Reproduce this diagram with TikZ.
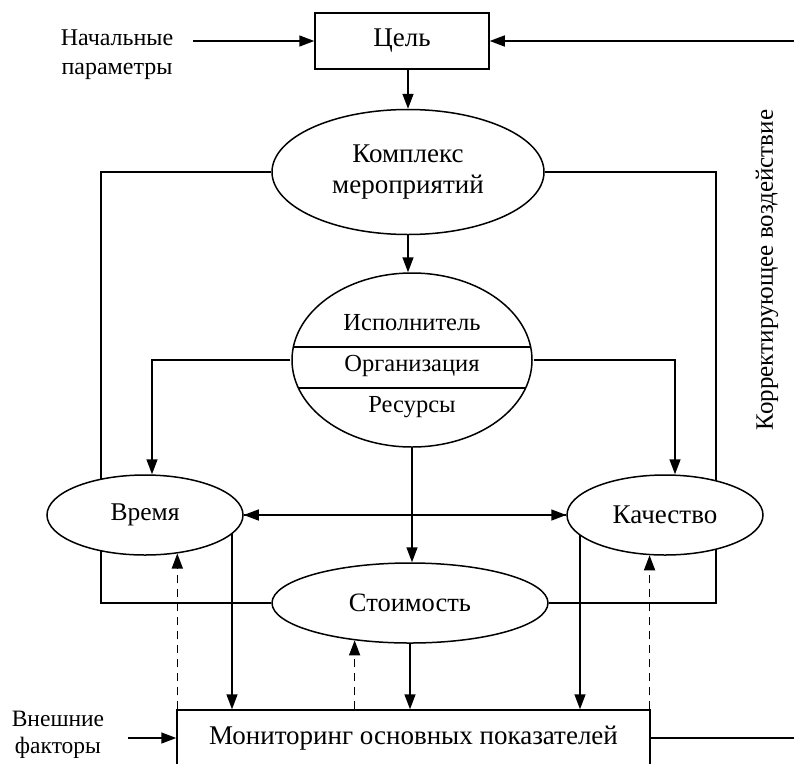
\documentclass[tikz,border=0pt]{standalone}
\usepackage{fontspec}
\setmainfont{Liberation Serif}
\usetikzlibrary{shapes.geometric,arrows.meta,backgrounds}
\newcommand\fsz[1]{\fontsize{#1}{#1}\selectfont}
\begin{document}
\begin{tikzpicture}[x=1pt,y=-1pt,
  every node/.style={font=\fsz{27}},
  ln/.style={line width=1.5pt},
  arr/.style={ln,-{Triangle[length=15pt,width=11pt]}},
  darr/.style={arr,dash pattern=on 8pt off 6pt},
  bx/.style={draw,ln,fill=white,inner sep=0pt},
  ell/.style={ellipse,draw,ln,fill=white,inner sep=0pt},
  lbl/.style={align=center,inner sep=0pt}]
\useasboundingbox (0,0) rectangle (794,763);

% nodes
\node[bx,minimum width=174pt,minimum height=56pt] (cel) at (402,41) {Цель};
\node[ell,minimum width=272pt,minimum height=125pt,align=center] (komp) at (408,172) {Комплекс\\[4pt]мероприятий};
\node[ell,minimum width=240pt,minimum height=174pt] (isp) at (412,360) {};
\node[ell,minimum width=196pt,minimum height=80pt,font=\fsz{25.5}] (vrem) at (145,515) {Время};
\node[ell,minimum width=196pt,minimum height=80pt] (kach) at (665,515) {Качество};
\node[ell,minimum width=276pt,minimum height=80pt,font=\fsz{26.5}] (stoim) at (410,603) {Стоимость};
\node[bx,minimum width=473pt,minimum height=56pt] (mon) at (413.5,738) {Мониторинг основных показателей};

\node[lbl,font=\fsz{24}] (nach) at (117,55) {Начальные\\[5pt]параметры};
\node[lbl,font=\fsz{23.5}] (vnesh) at (58,735) {Внешние\\[3pt]факторы};
\node[lbl,rotate=90,font=\fsz{25}] (korr) at (767,270) {Корректирующее воздействие};

% inside of Исполнитель ellipse
\begin{scope}
  \clip (isp.center) ellipse (120pt and 87pt);
  \draw[ln] (280,347) -- (550,347);
  \draw[ln] (280,388) -- (550,388);
\end{scope}
\node[lbl,font=\fsz{24.5}] (t1) at (412,323) {Исполнитель};
\node[lbl,font=\fsz{24.5}] (t2) at (412,366) {Организация};
\node[lbl,font=\fsz{24.5}] (t3) at (412,407) {Ресурсы};

% coordinates
\coordinate (nachR) at (193,41);
\coordinate (rightTop) at (794,41);
\coordinate (rightBot) at (794,738);
\coordinate (vneshR) at (128,738);
\coordinate (L) at (101,172);
\coordinate (R) at (716,172);

% connectors
\draw[arr] (nachR) -- (cel.west);
\draw[arr] (rightTop) -- (cel.east);
\draw[arr] (cel.south -| komp.north) -- (komp.north);
\draw[arr] (komp.south) -- (komp.south |- isp.north);
\draw[arr] (vneshR) -- (mon.west);
\draw[ln] (mon.east) -- (rightBot);
\draw[arr] ([xshift=-1pt]isp.west) -| ([xshift=7pt]vrem.north);
\draw[arr] ([xshift=1pt]isp.east) -| ([xshift=10pt]kach.north);
\draw[arr] (vrem.east) -- (kach.west);
\draw[arr] (kach.west) -- (vrem.east);
\draw[arr] (isp.south) -- (isp.south |- stoim.north);
\draw[arr] (stoim.south) -- (stoim.south |- mon.north);
\draw[darr] (vrem.-50 |- mon.north) -- (vrem.-50);
\draw[darr] (kach.-111 |- mon.north) -- (kach.-111);
\draw[darr] (stoim.-146 |- mon.north) -- (stoim.-146);

\begin{pgfonlayer}{background}
  \fill[white] (0,0) rectangle (794,763);
  \draw[ln] (komp.west) -- (L) |- (stoim.west);
  \draw[ln] (komp.east) -- (R) |- (stoim.east);
  \draw[arr] ([xshift=87pt]vrem.center) -- ([xshift=87pt]vrem.center |- mon.north);
  \draw[arr] ([xshift=-85pt]kach.center) -- ([xshift=-85pt]kach.center |- mon.north);
\end{pgfonlayer}
\end{tikzpicture}
\end{document}
